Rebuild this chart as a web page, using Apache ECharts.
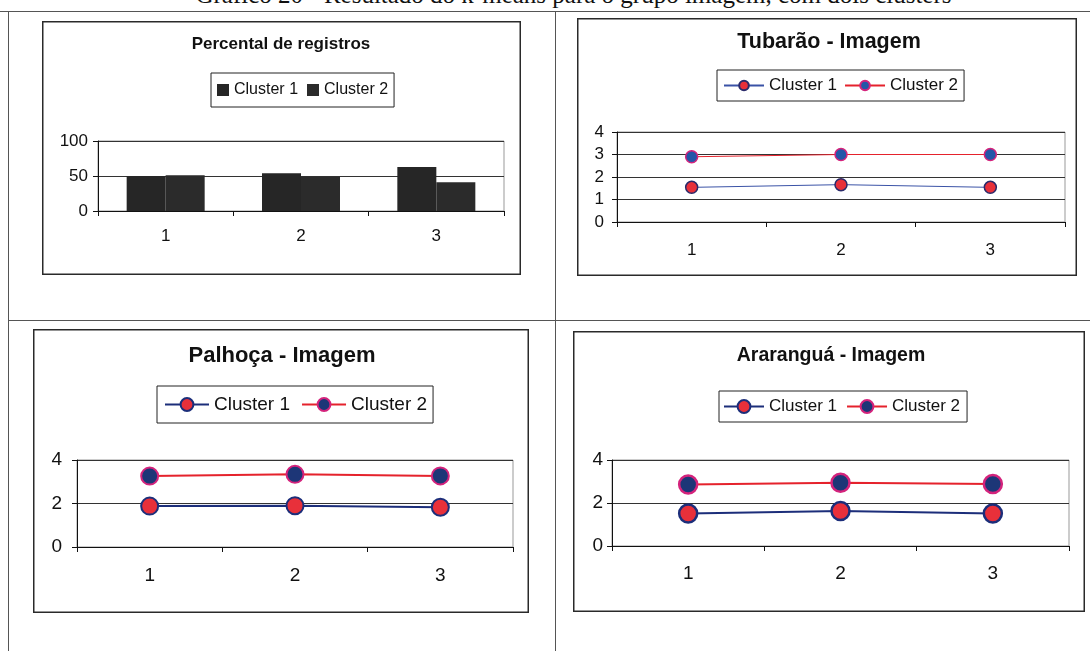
<!DOCTYPE html>
<html>
<head>
<meta charset="utf-8">
<script src="https://cdn.jsdelivr.net/npm/echarts@6/dist/echarts.min.js"></script>
<style>
  html, body { margin: 0; padding: 0; background: #fff; width: 1090px; height: 651px; overflow: hidden; position: relative; }
  .chart { position: absolute; }
  .line { position: absolute; background: #555; }
  #caption { position: absolute; left: 0; width: 1147px; top: -18px; text-align: center; font-family: 'Liberation Serif', 'Times New Roman', serif; font-size: 25px; line-height: 25px; color: #111; white-space: nowrap; }
</style>
</head>
<body>
<div id="caption">Gráfico 20 - Resultado do k-means para o grupo imagem, com dois clusters</div>
<div class="line" style="left:0;top:11px;width:1090px;height:1px;"></div>
<div class="line" style="left:8px;top:11px;width:1px;height:640px;"></div>
<div class="line" style="left:555px;top:11px;width:1px;height:640px;"></div>
<div class="line" style="left:8px;top:320px;width:1082px;height:1px;"></div>

<div id="c1" class="chart" style="left:42px;top:21px;width:479px;height:254px;"></div>
<div id="c2" class="chart" style="left:577px;top:18px;width:500px;height:258px;"></div>
<div id="c3" class="chart" style="left:33px;top:329px;width:496px;height:284px;"></div>
<div id="c4" class="chart" style="left:573px;top:331px;width:512px;height:281px;"></div>

<script>
// ---- data ----
const categories = ['1', '2', '3'];
const seriesNames = ['Cluster 1', 'Cluster 2'];
const registrosCluster1 = [50, 54, 63];
const registrosCluster2 = [51, 49, 41];
const tubaraoCluster1 = [1.54, 1.66, 1.54];
const tubaraoCluster2 = [2.9, 3.0, 3.0];
const palhocaCluster1 = [1.88, 1.9, 1.83];
const palhocaCluster2 = [3.26, 3.34, 3.27];
const araranguaCluster1 = [1.51, 1.63, 1.51];
const araranguaCluster2 = [2.86, 2.94, 2.88];
const chartTitles = ['Percental de registros', 'Tubarão - Imagem', 'Palhoça - Imagem', 'Araranguá - Imagem'];

const SANS = "'Liberation Sans', Arial, sans-serif";
const INK = '#111';

function boxGraphic(w, h) {
  return [{ type: 'rect', silent: true, shape: { x: 0.75, y: 0.75, width: w - 1.5, height: h - 1.5 },
    style: { fill: null, stroke: '#2a2a2a', lineWidth: 1.5 } }];
}

function axes(cfg) {
  return {
    xAxis: {
      type: 'category', data: categories, boundaryGap: true,
      axisLine: { lineStyle: { color: INK, width: 1 } },
      axisTick: { show: true, length: 5, alignWithLabel: false, lineStyle: { color: INK } },
      axisLabel: { margin: cfg.xMargin, fontFamily: SANS, fontSize: cfg.labelSize, color: INK }
    },
    yAxis: {
      type: 'value', min: 0, max: cfg.max, interval: cfg.interval,
      axisLine: { show: true, lineStyle: { color: INK, width: 1 } },
      axisTick: { show: true, length: 5, lineStyle: { color: INK } },
      splitLine: { show: true, lineStyle: { color: '#333', width: 1 } },
      axisLabel: { margin: cfg.yMargin, fontFamily: SANS, fontSize: cfg.labelSize, color: INK }
    }
  };
}

// ---- chart 1: bars ----
(function () {
  const ch = echarts.init(document.getElementById('c1'), null, { renderer: 'canvas' });
  const a = axes({ max: 100, interval: 50, xMargin: 17, yMargin: 10, labelSize: 17 });
  ch.setOption({
    animation: false,
    graphic: boxGraphic(479, 254),
    title: { text: chartTitles[0], left: 239, top: 15, textAlign: 'center', padding: 0,
      textStyle: { fontFamily: SANS, fontWeight: 'bold', fontSize: 17, color: INK } },
    legend: { data: seriesNames, left: 169, top: 52, padding: [9, 6, 9, 6], itemGap: 9,
      itemWidth: 12, itemHeight: 12, icon: 'rect', borderColor: '#222', borderWidth: 1,
      textStyle: { fontFamily: SANS, fontSize: 16, color: INK } },
    grid: { left: 56, top: 120, width: 406, height: 70, show: true, borderColor: '#999', borderWidth: 1 },
    xAxis: a.xAxis, yAxis: a.yAxis,
    series: [
      { type: 'bar', name: seriesNames[0], data: registrosCluster1, barWidth: 39, barGap: '0%', itemStyle: { color: '#262626' } },
      { type: 'bar', name: seriesNames[1], data: registrosCluster2, barWidth: 39, barGap: '0%', itemStyle: { color: '#2b2b2b' } }
    ]
  });
})();

// ---- line charts ----
function lineChart(id, w, h, cfg) {
  const ch = echarts.init(document.getElementById(id), null, { renderer: 'canvas' });
  const a = axes(cfg);
  ch.setOption({
    animation: false,
    graphic: boxGraphic(w, h),
    title: { text: cfg.title, left: cfg.titleX, top: cfg.titleY, textAlign: 'center', padding: 0,
      textStyle: { fontFamily: SANS, fontWeight: 'bold', fontSize: cfg.titleSize, color: INK } },
    legend: { data: seriesNames, left: cfg.legend.left, top: cfg.legend.top, padding: cfg.legend.padding,
      itemGap: cfg.legend.gap, itemWidth: cfg.legend.iw, itemHeight: cfg.legend.ih,
      borderColor: '#222', borderWidth: 1,
      textStyle: { fontFamily: SANS, fontSize: cfg.legendSize, color: INK } },
    grid: Object.assign({ show: true, borderColor: '#999', borderWidth: 1 }, cfg.grid),
    xAxis: a.xAxis, yAxis: a.yAxis,
    series: [
      { type: 'line', name: seriesNames[0], data: cfg.d1, symbol: 'circle', symbolSize: cfg.sym,
        lineStyle: { color: cfg.line1, width: cfg.lw },
        itemStyle: { color: '#e8303a', borderColor: cfg.border1, borderWidth: cfg.bw } },
      { type: 'line', name: seriesNames[1], data: cfg.d2, symbol: 'circle', symbolSize: cfg.sym,
        lineStyle: { color: '#e5222c', width: cfg.lw },
        itemStyle: { color: cfg.fill2, borderColor: '#d4237c', borderWidth: cfg.bw } }
    ]
  });
}

lineChart('c2', 500, 258, {
  title: chartTitles[1], titleX: 252, titleY: 13, titleSize: 21.5,
  legend: { left: 140, top: 52, padding: [7, 6, 7, 6], gap: 7, iw: 40, ih: 12 },
  legendSize: 17,
  grid: { left: 40, top: 114, width: 448, height: 90 },
  max: 4, interval: 1, xMargin: 20, yMargin: 13, labelSize: 17,
  d1: tubaraoCluster1, d2: tubaraoCluster2, sym: 12, lw: 1, bw: 1.5,
  line1: '#3a52a6', border1: '#2a2a6a', fill2: '#2456a8'
});

lineChart('c3', 496, 284, {
  title: chartTitles[2], titleX: 249, titleY: 16, titleSize: 22,
  legend: { left: 124, top: 57, padding: [9, 6, 9, 7], gap: 11, iw: 44, ih: 16 },
  legendSize: 19,
  grid: { left: 44, top: 131, width: 436, height: 87 },
  max: 4, interval: 2, xMargin: 19, yMargin: 15, labelSize: 19,
  d1: palhocaCluster1, d2: palhocaCluster2, sym: 17, lw: 2, bw: 2,
  line1: '#1c2e7a', border1: '#1c2e7a', fill2: '#1d3677'
});

lineChart('c4', 512, 281, {
  title: chartTitles[3], titleX: 258, titleY: 15, titleSize: 19.5,
  legend: { left: 146, top: 60, padding: [7, 7, 7, 4], gap: 9, iw: 40, ih: 16 },
  legendSize: 17,
  grid: { left: 39, top: 129, width: 457, height: 86 },
  max: 4, interval: 2, xMargin: 18, yMargin: 9, labelSize: 19,
  d1: araranguaCluster1, d2: araranguaCluster2, sym: 18, lw: 2, bw: 2.5,
  line1: '#1c2e7a', border1: '#1c2e7a', fill2: '#1d3677'
});
</script>
</body>
</html>
